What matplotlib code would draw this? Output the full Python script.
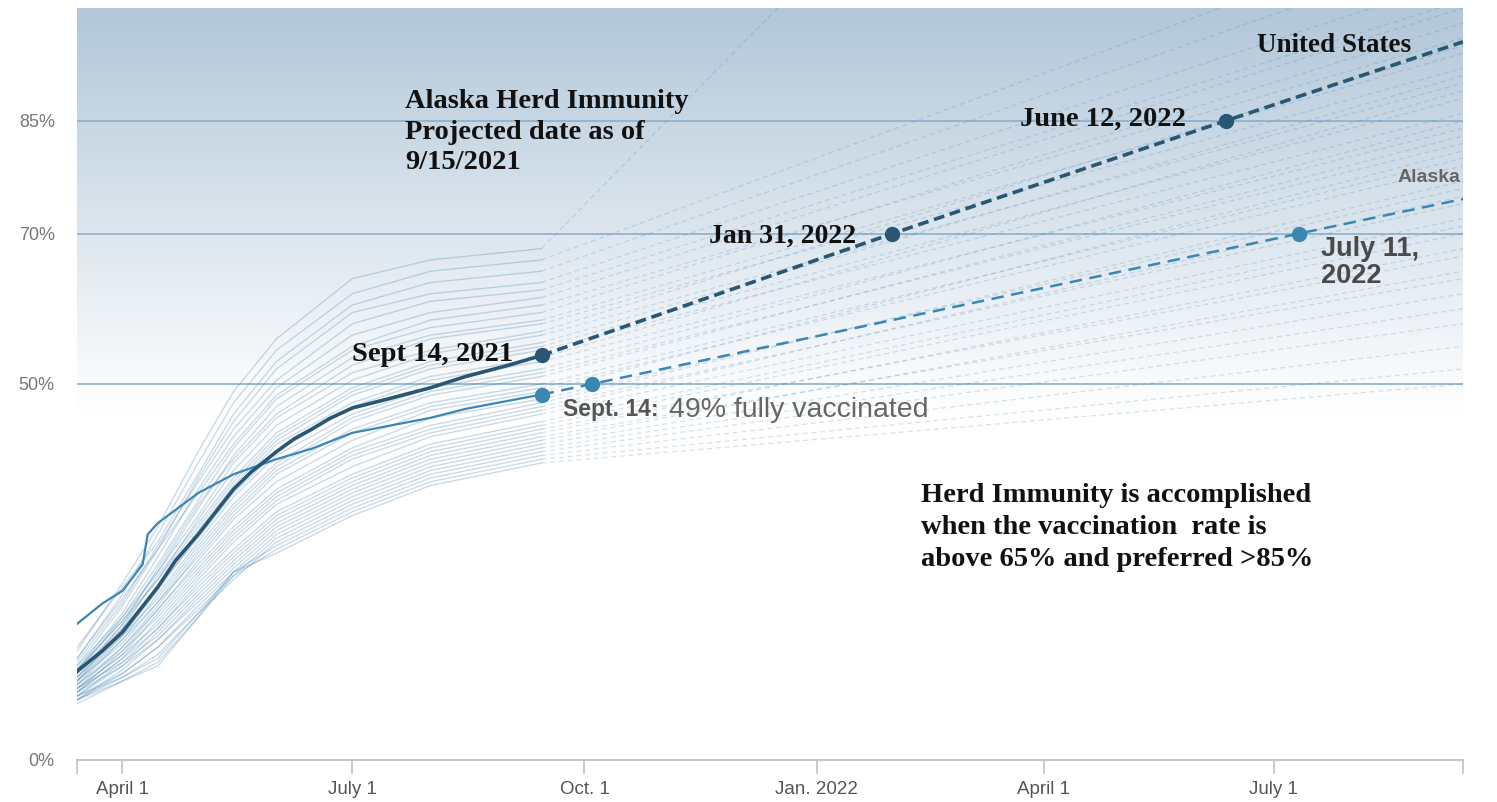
import numpy as np
import matplotlib
matplotlib.use("Agg")
import matplotlib.pyplot as plt
import matplotlib.dates as mdates
from matplotlib.colors import LinearSegmentedColormap

# dates used for the history keypoints (2021)
hist_dates = np.array(["2021-03-14", "2021-04-01", "2021-04-15", "2021-05-01", "2021-05-15",
                       "2021-06-01", "2021-07-01", "2021-08-01", "2021-09-14"], dtype="datetime64[D]")
proj_end_date = np.datetime64("2022-09-14")

# state curves, % fully vaccinated, one list per keypoint date (40 states)
st_mar14 = [14.5, 13.5, 15, 12.5, 13, 12, 13.5, 11.5, 12, 11, 12.5, 11.5, 10.5, 12, 11, 10.5, 11.5, 10, 11, 10.5,
            9.5, 10.5, 9, 10, 9.5, 10, 9, 9.5, 8.5, 9, 8.5, 9.5, 8, 9, 8.5, 8, 8.5, 8, 7.5, 8]
st_apr1 = [23.5, 22, 23, 20.5, 21, 19.5, 21.5, 19, 18.5, 18, 19, 18, 17.5, 18.5, 17, 16.5, 17.5, 16, 16.5, 15.5,
           15, 16, 14.5, 15, 14, 14.5, 13.5, 14, 13, 13.5, 12.5, 13, 12, 12.5, 11.5, 11.5, 11, 11, 10.5, 10.5]
st_apr15 = [31, 30, 29, 28, 28.5, 27, 28, 26, 25, 25.5, 25, 24, 24.5, 24, 23, 22.5, 23, 22, 21.5, 21,
            20.5, 21, 20, 20, 19.5, 19, 18.5, 18, 17.5, 17.5, 17, 16.5, 16, 16, 15, 15, 14, 13.5, 13, 12.5]
st_may1 = [41, 39.5, 38, 37.5, 37, 36, 35.5, 34.5, 33.5, 34, 32.5, 32, 31.5, 31, 30.5, 30, 29.5, 29, 28.5, 28,
           27.5, 27, 26.5, 26, 25.5, 25, 24.5, 24, 23.5, 23, 22.5, 22, 21.5, 21, 20.5, 20, 19.5, 19.5, 19, 19]
st_may15 = [49, 47.5, 46, 45, 44, 43, 42, 41.5, 40.5, 40, 39.5, 38.5, 37.5, 37, 36.5, 36, 35.5, 35, 34, 33.5,
            33, 32.5, 32, 31, 30.5, 30, 29.5, 29, 28, 27.5, 27, 26.5, 26, 25.5, 25, 24.5, 24, 25, 24.5, 25]
st_jun1 = [56, 54.5, 53, 52, 50.5, 49.5, 48.5, 48, 47, 46, 45.5, 44.5, 43.5, 43, 42.5, 42, 41, 40.5, 39.5, 39,
           38.5, 38, 37, 36, 35.5, 35, 34.5, 34, 33, 32.5, 32, 31.5, 31, 30.5, 30, 29.5, 29, 28.5, 28, 27.5]
st_jul1 = [64, 62, 60.5, 59.5, 58, 56.5, 55, 54.5, 53.5, 52.5, 51.5, 50.5, 49.5, 49, 48.5, 47.5, 47, 46, 45.5, 45,
           44, 43.5, 42.5, 41.5, 41, 40.5, 40, 39, 38, 37.5, 37, 36.5, 36, 35.5, 35, 34.5, 34, 33.5, 33, 32.5]
st_aug1 = [66.5, 65, 63.5, 62, 61, 59.5, 58.5, 57.5, 56.5, 56, 54.5, 54, 53, 52.5, 52, 51, 50.5, 49.5, 49, 48.5,
           47.5, 47, 46.5, 45.5, 44.5, 44, 43.5, 43, 42, 41.5, 41, 40.5, 40, 39.5, 39, 38.5, 38, 37.5, 37, 36.5]
st_sep14 = [68, 66.5, 65, 63.5, 62.5, 61.5, 60.5, 59.5, 58.5, 58, 57, 56.5, 55.5, 55, 54.5, 53.5, 53, 52, 51.5, 51,
            50, 49.5, 49, 48, 47.5, 47, 46.5, 46, 45, 44.5, 44, 43.5, 43, 42.5, 42, 41.5, 41, 40.5, 40, 39.5]
# projected value one year later (lines run off the top when > 100)
st_proj_end = [193, 112, 108, 104, 101, 100, 96, 98, 94, 92, 95, 90, 91, 88, 86, 89, 84, 85, 82, 83,
               80, 79, 81, 76, 77, 74, 75, 72, 71, 70, 67, 68, 64, 65, 62, 60, 58, 55, 52, 50]

# United States
us_dates = np.array(["2021-03-14", "2021-03-24", "2021-04-01", "2021-04-08", "2021-04-15", "2021-04-22",
                     "2021-05-01", "2021-05-08", "2021-05-15", "2021-05-22", "2021-06-01", "2021-06-08",
                     "2021-06-15", "2021-06-22", "2021-07-01", "2021-07-15", "2021-08-01", "2021-08-15",
                     "2021-09-01", "2021-09-14"], dtype="datetime64[D]")
us_vals = [11.8, 14.5, 17.0, 20.0, 23.0, 26.5, 30.0, 33.0, 36.0, 38.3, 41.0, 42.7, 44.0, 45.4, 46.8,
           48.0, 49.5, 51.0, 52.5, 53.8]
us_proj_dates = np.array(["2021-09-14", "2022-01-31", "2022-06-12", "2022-09-14"], dtype="datetime64[D]")
us_proj_vals = [53.8, 70, 85, 95.5]

# Alaska
ak_dates = np.array(["2021-03-14", "2021-03-24", "2021-04-01", "2021-04-09", "2021-04-11", "2021-04-15",
                     "2021-05-01", "2021-05-15", "2021-06-01", "2021-06-15", "2021-07-01", "2021-08-01",
                     "2021-08-15", "2021-09-14"], dtype="datetime64[D]")
ak_vals = [18.1, 20.8, 22.5, 26.0, 30.0, 31.5, 35.5, 38.0, 40.0, 41.4, 43.5, 45.5, 46.7, 48.6]
ak_proj_dates = np.array(["2021-09-14", "2021-10-04", "2022-07-11", "2022-09-14"], dtype="datetime64[D]")
ak_proj_vals = [48.6, 50, 70, 74.6]

ref_levels = [50, 70, 85]
ytick_vals = [0, 50, 70, 85]
ytick_labels = ["0%", "50%", "70%", "85%"]
xtick_dates = np.array(["2021-04-01", "2021-07-01", "2021-10-01", "2022-01-01", "2022-04-01", "2022-07-01"],
                       dtype="datetime64[D]")
xtick_labels = ["April 1", "July 1", "Oct. 1", "Jan. 2022", "April 1", "July 1"]

x_start = np.datetime64("2021-03-14")
x_end = np.datetime64("2022-09-14")

US_COL = "#285673"
AK_COL = "#3b86b3"
STATE_COL = "#3f7fae"
SERIF = ["Liberation Serif", "DejaVu Serif"]
SANS = ["Liberation Sans", "DejaVu Sans"]

fig = plt.figure(figsize=(14.97, 8.02), dpi=100)
ax = fig.add_axes([77 / 1497, 42 / 802, 1386 / 1497, 752 / 802])

# state lines
state_hist = np.array([st_mar14, st_apr1, st_apr15, st_may1, st_may15, st_jun1, st_jul1, st_aug1, st_sep14])
for i in range(state_hist.shape[1]):
    ax.plot(hist_dates, state_hist[:, i], color=STATE_COL, lw=1.0, alpha=0.28, zorder=2)
    ax.plot([hist_dates[-1], proj_end_date], [st_sep14[i], st_proj_end[i]], color=STATE_COL,
            lw=0.9, alpha=0.22, dashes=(4, 3), zorder=2)

# reference lines
for lev in ref_levels:
    ax.axhline(lev, color="#8eaec7", lw=1.2, zorder=1)

# gradient background
grad_cmap = LinearSegmentedColormap.from_list("bg", ["#ffffff", "#b2c7d9"])
grad = np.linspace(0, 1, 256).reshape(-1, 1)
ax.imshow(grad, extent=[mdates.date2num(x_start), mdates.date2num(x_end), 46, 100], origin="lower",
          aspect="auto", cmap=grad_cmap, zorder=0)

# Alaska
ax.plot(ak_dates, ak_vals, color=AK_COL, lw=1.6, zorder=4)
ax.plot(ak_proj_dates, ak_proj_vals, color=AK_COL, lw=1.8, dashes=(5, 3), zorder=4)
ax.plot(ak_proj_dates[:3], ak_proj_vals[:3], "o", color=AK_COL, ms=10, zorder=5)

# United States
ax.plot(us_dates, us_vals, color=US_COL, lw=2.6, zorder=6)
ax.plot(us_proj_dates, us_proj_vals, color=US_COL, lw=2.6, dashes=(3, 1.6), zorder=6)
ax.plot(us_proj_dates[:3], us_proj_vals[:3], "o", color=US_COL, ms=10, zorder=7)

ax.set_xlim(x_start, x_end)
ax.set_ylim(0, 100)

# axes styling
for s in ["top", "right", "left"]:
    ax.spines[s].set_visible(False)
ax.spines["bottom"].set_color("#c6c6c6")
ax.spines["bottom"].set_linewidth(1.5)
ax.set_xticks(xtick_dates)
ax.set_xticklabels(xtick_labels)
ax.set_xticks([x_start, x_end], minor=True)
ax.tick_params(axis="x", which="both", length=10, width=1.3, color="#c6c6c6", labelcolor="#555555",
               labelsize=13.5, pad=5)
ax.set_yticks(ytick_vals)
ax.set_yticklabels(ytick_labels)
ax.tick_params(axis="y", length=0, labelcolor="#777777", labelsize=13, pad=16)
for lab in ax.get_xticklabels() + ax.get_yticklabels():
    lab.set_family(SANS)

# annotations
def ann(txt, xy, off, **kw):
    ax.annotate(txt, xy=xy, xytext=off, textcoords="offset pixels", zorder=8, **kw)

ann("Sept 14, 2021", (us_proj_dates[0], us_proj_vals[0]), (-28, 1), ha="right", va="center",
    family=SERIF, weight="bold", fontsize=20.5, color="#111111")
ann("Jan 31, 2022", (us_proj_dates[1], us_proj_vals[1]), (-36, -3), ha="right", va="center",
    family=SERIF, weight="bold", fontsize=20, color="#111111")
ann("June 12, 2022", (us_proj_dates[2], us_proj_vals[2]), (-40, 2), ha="right", va="center",
    family=SERIF, weight="bold", fontsize=20.5, color="#111111")
ann("United States", (us_proj_dates[3], us_proj_vals[3]), (-52, -4), ha="right", va="center",
    family=SERIF, weight="bold", fontsize=19.5, color="#111111")
ann("Alaska", (ak_proj_dates[3], ak_proj_vals[3]), (-65, 22), ha="left", va="center",
    family=SANS, weight="bold", fontsize=14, color="#666666")
ann("July 11,\n2022", (ak_proj_dates[2], ak_proj_vals[2]), (22, -2), ha="left", va="top",
    family=SANS, weight="bold", fontsize=19.5, color="#4a4a4a", linespacing=1.05)
ann("Sept. 14:", (ak_proj_dates[0], ak_proj_vals[0]), (21, -15), ha="left", va="center",
    family=SANS, weight="bold", fontsize=16.5, color="#555555")
ann("49% fully vaccinated", (ak_proj_dates[0], ak_proj_vals[0]), (127, -15), ha="left", va="center",
    family=SANS, fontsize=20.5, color="#666666")

ax.text(0.2367, 0.892, "Alaska Herd Immunity\nProjected date as of\n9/15/2021", transform=ax.transAxes,
        ha="left", va="top", family=SERIF, weight="bold", fontsize=20.5, color="#111111",
        linespacing=1.28, zorder=8)
ax.text(0.609, 0.368, "Herd Immunity is accomplished\nwhen the vaccination  rate is\nabove 65% and preferred >85%",
        transform=ax.transAxes, ha="left", va="top", family=SERIF, weight="bold", fontsize=20.5,
        color="#111111", linespacing=1.36, zorder=8)

fig.savefig("out.png", dpi=100)
